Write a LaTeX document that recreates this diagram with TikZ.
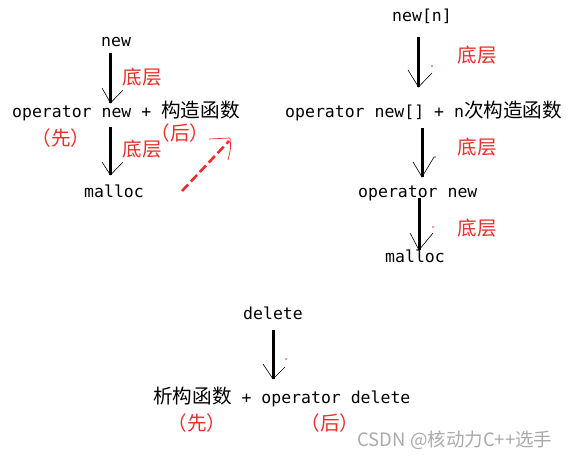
\documentclass[tikz,border=0pt]{standalone}
\usepackage{fontspec}
\setmainfont{DejaVu Sans Mono}
\newfontfamily\cjkfont{Noto Sans CJK SC}
\newcommand\zhtxt[1]{{\cjkfont\fontsize{19.6}{20}\selectfont #1}}
\definecolor{lblred}{RGB}{240,45,45}
\definecolor{wmgray}{RGB}{170,170,170}
\tikzset{
  txt/.style={inner sep=0pt, anchor=base west, font=\fontsize{16.5}{18}\selectfont},
  lbl/.style={inner sep=0pt, text=lblred, font=\cjkfont\fontsize{19.6}{20}\selectfont},
  shaft/.style={line width=3pt, black},
  arm/.style={line width=0.6pt, black},
  reddash/.style={line width=2.6pt, lblred, dash pattern=on 9pt off 4pt},
  redthin/.style={line width=0.7pt, lblred},
}
% name, x, ytop, ytip, left arm x,y, right arm x,y
\newcommand\handarrow[8]{%
  \coordinate (#1s) at (#2,#3);
  \coordinate (#1t) at (#2,#4);
  \coordinate (#1l) at (#5,#6);
  \coordinate (#1r) at (#7,#8);
  \draw[shaft] (#1s) -- (#1t);
  \draw[arm] (#1l) -- (#1t) -- (#1r);
}
\begin{document}
\begin{tikzpicture}[x=1pt,y=-1pt]
\useasboundingbox (0,0) rectangle (575,460);
\fill[white] (0,0) rectangle (575,460);

% ---- left: new ----
\node[txt] (lnew) at (101,47) {new};
\node[txt] (lop) at (12,117) {operator new + \zhtxt{构造函数}};
\node[txt] (lmal) at (84,197) {malloc};
\node[lbl] (ld1) at (142,77) {底层};
\node[lbl] (ld2) at (142,149) {底层};
\node[lbl] (lxian) at (61,138) {（先）};
\node[lbl] (lhou) at (180,133) {（后）};
\handarrow{la}{110.5}{53}{103}{102}{88}{123}{90}
\handarrow{lb}{110.5}{127}{175}{102}{162}{123}{162}
\coordinate (rds) at (182,191);
\coordinate (rde) at (229,141);
\draw[reddash] (rds) -- (rde);
\coordinate (rh1) at (209,139);
\coordinate (rh2) at (230,138);
\coordinate (rh3) at (228,160);
\draw[redthin] (rh1) -- (rh2) .. controls (231,148) .. (rh3);

% ---- right: new[n] ----
\node[txt] (rnew) at (392,22) {new[n]};
\node[txt] (rop) at (285,117) {operator new[] + n\zhtxt{次构造函数}};
\node[txt] (ropn) at (358,197) {operator new};
\node[txt] (rmal) at (385,262) {malloc};
\node[lbl] (rd1) at (477,55) {底层};
\node[lbl] (rd2) at (477,147) {底层};
\node[lbl] (rd3) at (477,228) {底层};
\handarrow{ra}{418.5}{37}{87}{408}{70}{432}{73}
\handarrow{rb}{422}{128}{177}{413}{162}{434}{157}
\handarrow{rc}{419}{198}{250}{410}{233}{433}{233}
\fill[lblred] (432,66) circle (0.8);
\fill[lblred] (435,157) circle (0.8);
\fill[lblred] (433,227) circle (0.8);

% ---- bottom: delete ----
\node[txt] (del) at (243,319) {delete};
\node[txt] (bop) at (153,403) {\zhtxt{析构函数} + operator delete};
\node[lbl] (bxian) at (197,423) {（先）};
\node[lbl] (bhou) at (330,423) {（后）};
\handarrow{ba}{273}{330}{379}{263}{364}{285}{367}
\fill[lblred] (286,359) circle (0.8);

% watermark
\node[inner sep=0pt, text=wmgray, font=\cjkfont\fontsize{18.5}{19}\selectfont] (wm) at (455,440) {CSDN @核动力C++选手};
\end{tikzpicture}
\end{document}
